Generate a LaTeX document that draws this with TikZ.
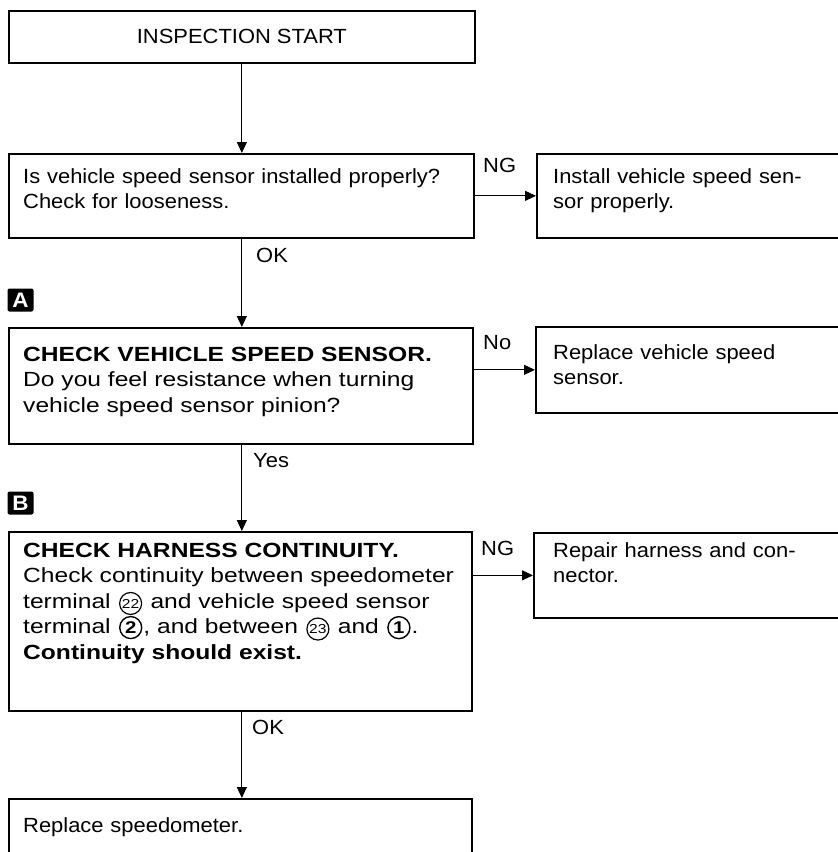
\documentclass[tikz,border=0pt]{standalone}
\usepackage{fontspec}
\setmainfont{Liberation Sans}[FakeStretch=1.07]
\newfontfamily\widefont{Liberation Sans}[FakeStretch=1.2]
\usetikzlibrary{arrows.meta}
\newcommand{\cnsmall}[1]{\hspace{1.5pt}\tikz[baseline=(cn.base)]\node[circle,draw,line width=1.2pt,inner sep=0pt,minimum size=22pt,font=\fontsize{13}{13}\selectfont](cn){#1};\hspace{1.5pt}}
\newcommand{\cnbig}[1]{\hspace{1.5pt}\tikz[baseline=(cn.base)]\node[circle,draw,line width=1.4pt,inner sep=0pt,minimum size=22pt,font=\fontsize{17}{17}\selectfont\bfseries](cn){#1};\hspace{1pt}}
\begin{document}
\begin{tikzpicture}[x=1pt,y=-1pt,
  box/.style={draw,line width=1.7pt,anchor=north west,inner sep=0pt},
  txt/.style={anchor=base west,inner sep=0pt,align=left,font=\fontsize{20.5}{25.5}\selectfont},
  wtxt/.style={txt,font=\fontsize{20.5}{25.5}\selectfont\widefont},
  lbl/.style={anchor=base west,inner sep=0pt,font=\fontsize{20.5}{24}\selectfont},
  arr/.style={line width=1pt,-{Triangle[length=11pt,width=10pt]}},
  tag/.style={fill=black,rounded corners=2pt,text=white,font=\fontsize{21}{21}\selectfont\bfseries,minimum width=26pt,minimum height=23pt,inner sep=0pt}]
\useasboundingbox (0,0) rectangle (838,852);
\clip (0,0) rectangle (838,852);
% boxes
\node[box,minimum width=466pt,minimum height=52pt,font=\fontsize{20.5}{24}\selectfont] (start) at (8,10) {INSPECTION START};
\node[box,minimum width=465pt,minimum height=84pt] (q1) at (8,153) {};
\node[box,minimum width=310pt,minimum height=84pt] (r1) at (536,153) {};
\node[box,minimum width=464pt,minimum height=116pt] (q2) at (8,327) {};
\node[box,minimum width=310pt,minimum height=86pt] (r2) at (535,326) {};
\node[box,minimum width=463pt,minimum height=179pt] (q3) at (8,531) {};
\node[box,minimum width=310pt,minimum height=85pt] (r3) at (533,532) {};
\node[box,minimum width=463pt,minimum height=70pt] (fin) at (8,798) {};
% texts
\node[txt,text width=450pt] (t1) at (23,183) {Is vehicle speed sensor installed properly?\\Check for looseness.};
\node[txt,text width=290pt] (u1) at (553,183) {Install vehicle speed sen-\\sor properly.};
\node[wtxt,text width=450pt] (t2) at (23,361) {\textbf{CHECK VEHICLE SPEED SENSOR.}\\Do you feel resistance when turning\\vehicle speed sensor pinion?};
\node[txt,text width=290pt] (u2) at (553,359) {Replace vehicle speed\\sensor.};
\node[wtxt,text width=450pt] (t3) at (23,557) {\textbf{CHECK HARNESS CONTINUITY.}\\Check continuity between speedometer\\terminal \cnsmall{22} and vehicle speed sensor\\terminal \cnbig{2}, and between \cnsmall{23} and \cnbig{1}.\\\textbf{Continuity should exist.}};
\node[txt,text width=290pt] (u3) at (553,557) {Repair harness and con-\\nector.};
\node[txt,text width=450pt] (t4) at (23,832) {Replace speedometer.};
% tags
\node[tag] (tagA) at (20.5,300) {A};
\node[tag] (tagB) at (20.5,503) {B};
% arrows
\draw[arr] (start.south) -- (start.south |- q1.north);
\draw[arr] (start.south |- q1.south) -- (start.south |- q2.north);
\draw[arr] (start.south |- q2.south) -- (start.south |- q3.north);
\draw[arr] (start.south |- q3.south) -- (start.south |- fin.north);
\draw[arr] (r1.west -| q1.east) -- (r1.west);
\draw[arr] (r2.west -| q2.east) -- (r2.west);
\draw[arr] (r3.west -| q3.east) -- (r3.west);
% labels
\node[lbl] (ng1) at (483,172) {NG};
\node[lbl] (no2) at (483,349) {No};
\node[lbl] (ng3) at (481,555) {NG};
\node[lbl] (ok1) at (256,262) {OK};
\node[lbl] (yes2) at (253,467) {Yes};
\node[lbl] (ok3) at (252,734) {OK};
\end{tikzpicture}
\end{document}
